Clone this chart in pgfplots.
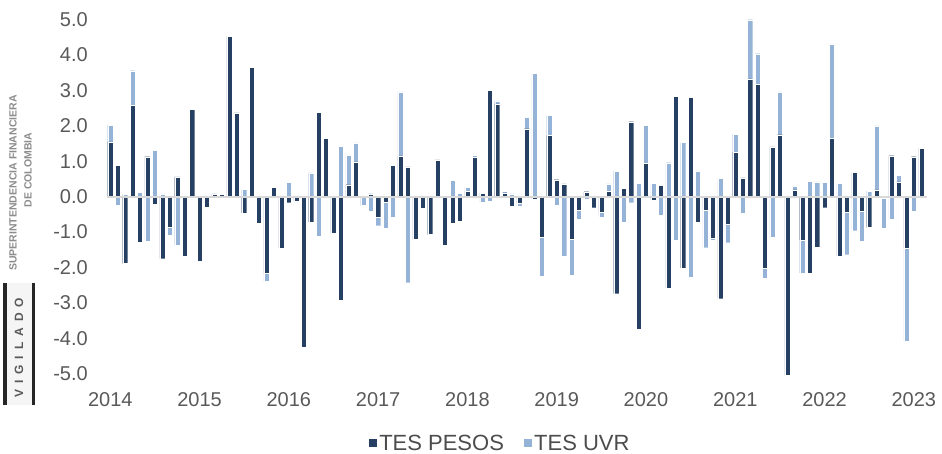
\documentclass[border=0pt]{standalone}
\usepackage{fontspec}
\setmainfont{Liberation Sans}
\usepackage{pgfplots}
\usepackage{pgfplotstable}
\pgfplotsset{compat=1.18}
\definecolor{dark}{RGB}{38,64,100}
\definecolor{light}{RGB}{149,179,215}
\definecolor{txt}{RGB}{89,89,89}
\definecolor{zl}{RGB}{217,217,217}

% i = month index (0 = Jan 2014), p = TES PESOS, u = TES UVR
\pgfplotstableread{
i p u
0 1.55 0.47
1 0.89 -0.24
2 -1.89 0.07
3 2.58 0.98
4 -1.29 0.13
5 1.13 -1.25
6 -0.21 1.31
7 -1.75 0.08
8 -0.86 -0.22
9 0.56 -1.38
10 -1.69 0
11 2.47 0
12 -1.83 0
13 -0.29 0
14 0.08 0
15 0.07 0
16 4.53 0
17 2.37 0
18 -0.46 0.21
19 3.66 0
20 -0.74 0
21 -2.16 -0.23
22 0.26 -0.05
23 -1.45 0
24 -0.17 0.40
25 -0.12 0
26 -4.26 0
27 -0.71 0.67
28 2.39 -1.11
29 1.65 -0.05
30 -1.04 0
31 -2.93 1.42
32 0.34 0.84
33 0.98 0.54
34 0 -0.25
35 0.08 -0.41
36 -0.59 -0.23
37 -0.15 -0.73
38 0.89 -0.59
39 1.15 1.81
40 0.84 -2.43
41 -1.21 0
42 -0.33 0
43 -1.07 0
44 1.04 0
45 -1.36 0
46 -0.76 0.46
47 -0.70 0.09
48 0.16 0.10
49 1.12 0.05
50 0.10 -0.15
51 3.01 -0.12
52 2.62 0.09
53 0.11 0.04
54 -0.26 0.08
55 -0.19 -0.07
56 1.92 0.32
57 -0.07 3.48
58 -1.14 -1.11
59 1.73 0.57
60 0.48 -0.23
61 0.36 -1.68
62 -1.21 -1.01
63 -0.38 -0.26
64 0.14 -0.08
65 -0.31 -0.03
66 -0.44 -0.14
67 0.16 0.20
68 -2.74 0.72
69 0.24 -0.73
70 2.12 -0.17
71 -3.75 0.37
72 0.95 1.07
73 -0.09 0.38
74 0.33 -0.52
75 -2.58 0.96
76 2.84 -1.22
77 -2.01 1.53
78 2.80 -2.27
79 -0.73 0.73
80 -0.38 -1.06
81 -1.18 -0.04
82 -2.88 0.52
83 -0.77 -0.53
84 1.26 0.50
85 0.53 -0.47
86 3.33 1.67
87 3.18 0.86
88 -2.02 -0.27
89 1.41 -1.14
90 1.75 1.21
91 -5.05 0
92 0.19 0.11
93 -1.23 -0.92
94 -2.15 0.44
95 -1.43 0.42
96 -0.31 0.41
97 1.65 2.66
98 -1.67 0.37
99 -0.44 -1.20
100 0.68 -0.96
101 -0.41 -0.85
102 -0.87 0.16
103 0.19 1.81
104 -0.05 -0.83
105 1.16 -0.63
106 0.42 0.19
107 -1.45 -2.63
108 1.13 -0.42
109 1.37 0
}\data

\begin{document}
\begin{tikzpicture}[x=1pt,y=1pt]
\path[use as bounding box] (0,0) rectangle (942,454);
\pgfplotsset{
  base/.style={
    at={(107pt,80.3pt)}, anchor=south west, scale only axis,
    width=820pt, height=354pt,
    xmin=-0.44, xmax=109.77, ymin=-5, ymax=5,
    ybar stacked, bar width=0.68,
    clip=false,
    axis line style={draw=none},
    major tick length=0pt,
  },
  bar/.style={fill=#1, draw=white, line width=0.25pt},
}
% positive parts
\begin{axis}[base,
  xtick={0,12,...,108},
  xticklabels={2014,2015,2016,2017,2018,2019,2020,2021,2022,2023},
  ytick={-5,-4,...,5},
  yticklabels={-5.0,-4.0,-3.0,-2.0,-1.0,0.0,1.0,2.0,3.0,4.0,5.0},
  tick label style={font=\fontsize{20}{24}\selectfont, text=txt},
  yticklabel style={anchor=east, inner sep=0pt, xshift=-19pt},
  xticklabel style={anchor=center, inner sep=0pt, yshift=-26.3pt},
  legend style={at={(0.479,-0.196)}, anchor=center, draw=none, fill=none,
    legend columns=2, font=\fontsize{22}{24}\selectfont, text=black!70,
    inner sep=0pt,
    /tikz/every even column/.append style={column sep=17pt}},
  legend image code/.code={\fill[#1] (0pt,-4.5pt) rectangle (9pt,4.5pt);},
]
\addplot[bar=dark] table[x=i, y expr={max(\thisrow{p},0)}] {\data};
\addplot[bar=light] table[x=i, y expr={max(\thisrow{u},0)}] {\data};
\legend{TES PESOS, TES UVR}
\end{axis}
% negative parts
\begin{axis}[base,
  xtick=\empty, ytick={0}, yticklabels={},
  ymajorgrids, major grid style={zl, line width=2pt},
  axis on top,
]
\addplot[bar=dark] table[x=i, y expr={min(\thisrow{p},0)}] {\data};
\addplot[bar=light] table[x=i, y expr={min(\thisrow{u},0)}] {\data};
\end{axis}
% watermark
\fill[gray!8] (3,49) rectangle (35,171);
\fill[black!85] (3,49) rectangle (6.5,171);
\fill[black!85] (31.5,49) rectangle (35,171);
\node[rotate=90, text=black!65, font=\fontsize{12}{12}\selectfont\bfseries\addfontfeatures{LetterSpace=50}] at (19,106) {VIGILADO};
\node[rotate=90, text=black!45, font=\fontsize{10.5}{11}\selectfont\bfseries] at (13,271) {SUPERINTENDENCIA FINANCIERA};
\node[rotate=90, text=black!45, font=\fontsize{10.5}{11}\selectfont\bfseries] at (28,284) {DE COLOMBIA};
\end{tikzpicture}
\end{document}
